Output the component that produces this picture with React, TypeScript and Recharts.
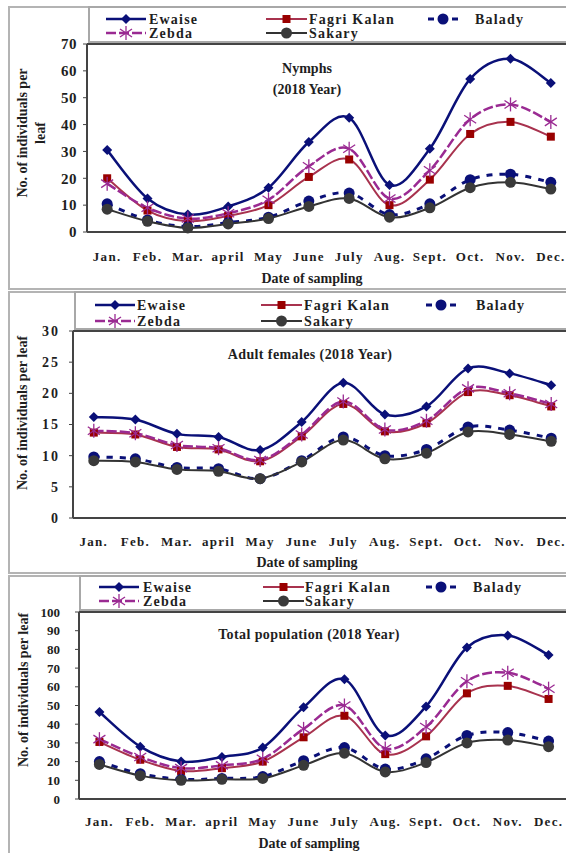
import React from "react";
import { LineChart, Line, XAxis, YAxis, ReferenceLine } from "recharts";

const months = ["Jan.", "Feb.", "Mar.", "april", "May", "June", "July", "Aug.", "Sept.", "Oct.", "Nov.", "Dec."];

// Nymphs (2018 Year)
const nymphEwaise = [30.5, 12.5, 6.5, 9.5, 16.5, 33.5, 42.5, 17.5, 31, 57, 64.5, 55.5];
const nymphFagri = [20, 8, 4, 6, 10, 20.5, 27, 10, 19.5, 36.5, 41, 35.5];
const nymphBalady = [10.5, 4.5, 2, 3.5, 5.5, 11.5, 14.5, 6.5, 10.5, 19.5, 21.5, 18.5];
const nymphZebda = [18, 9, 5, 7, 12, 24.5, 31, 12.5, 23, 42, 47.5, 41];
const nymphSakary = [8.5, 4, 1.5, 3, 5, 9.5, 12.5, 5.5, 9, 16.5, 18.5, 16];

// Adult females (2018 Year)
const adultEwaise = [16.2, 15.8, 13.5, 13, 10.9, 15.4, 21.7, 16.6, 17.9, 24, 23.2, 21.3];
const adultFagri = [13.7, 13.4, 11.4, 11, 9.1, 13.1, 18.3, 13.9, 15.2, 20.2, 19.7, 17.9];
const adultBalady = [9.8, 9.5, 8.1, 7.9, 6.3, 9.2, 13, 10, 11, 14.6, 14.1, 12.8];
const adultZebda = [14, 13.6, 11.7, 11.2, 9.3, 13.4, 18.7, 14.2, 15.6, 20.8, 20, 18.3];
const adultSakary = [9.2, 9, 7.8, 7.5, 6.3, 9, 12.5, 9.5, 10.4, 13.8, 13.4, 12.3];

// Total population (2018 Year)
const totalEwaise = [46.5, 28, 20, 22.5, 27.5, 49, 64, 34, 49.5, 81, 87.5, 77];
const totalFagri = [30.5, 21, 15, 16.5, 20, 33, 44.5, 24, 33.5, 56.5, 60.5, 53.5];
const totalBalady = [20, 13.5, 10.5, 11, 12, 20.5, 27.5, 16, 21.5, 34, 35.5, 31];
const totalZebda = [32, 22.5, 16.5, 18, 21.5, 37.5, 50, 27, 38.5, 63, 67.5, 59];
const totalSakary = [18.5, 12.5, 10, 10.5, 11, 18, 24.5, 14.5, 19.5, 30, 31.5, 28];

const nymphTicks = [0, 10, 20, 30, 40, 50, 60, 70];
const adultTicks = [0, 5, 10, 15, 20, 25, 30];
const totalTicks = [0, 10, 20, 30, 40, 50, 60, 70, 80, 90, 100];

const FONT = "'Liberation Serif', 'Times New Roman', serif";
const INK = "#1e1e1e";

type Kind = "diamond" | "square" | "star" | "circle";

const series = [
    { key: "ewaise", name: "Ewaise", color: "#0a1078", dotColor: "#0a1078", width: 2.5, dash: undefined, kind: "diamond" as Kind },
    { key: "fagri", name: "Fagri Kalan", color: "#a8324e", dotColor: "#990000", width: 2, dash: undefined, kind: "square" as Kind },
    { key: "balady", name: "Balady", color: "#0a1078", dotColor: "#0a1078", width: 3, dash: "6 7", kind: "circle" as Kind },
    { key: "zebda", name: "Zebda", color: "#9a2a92", dotColor: "#9a2a92", width: 2.5, dash: "10 3", kind: "star" as Kind },
    { key: "sakary", name: "Sakary", color: "#333333", dotColor: "#3a3a3a", width: 2, dash: undefined, kind: "circle" as Kind },
];

function buildRows(e: number[], f: number[], b: number[], z: number[], s: number[]) {
    return months.map((m, i) => ({ month: m, ewaise: e[i], fagri: f[i], balady: b[i], zebda: z[i], sakary: s[i] }));
}

// Excel style smoothed line (uniform Catmull-Rom as cubic Bezier)
const excelCurve = (context: any) => {
    let pts: number[][] = [];
    return {
        areaStart() {},
        areaEnd() {},
        lineStart() {
            pts = [];
        },
        lineEnd() {
            const n = pts.length;
            if (!n) return;
            context.moveTo(pts[0][0], pts[0][1]);
            for (let i = 0; i < n - 1; i++) {
                const p0 = pts[Math.max(i - 1, 0)];
                const p1 = pts[i];
                const p2 = pts[i + 1];
                const p3 = pts[Math.min(i + 2, n - 1)];
                context.bezierCurveTo(
                    p1[0] + (p2[0] - p0[0]) / 6,
                    p1[1] + (p2[1] - p0[1]) / 6,
                    p2[0] - (p3[0] - p1[0]) / 6,
                    p2[1] - (p3[1] - p1[1]) / 6,
                    p2[0],
                    p2[1]
                );
            }
        },
        point(x: number, y: number) {
            pts.push([+x, +y]);
        },
    };
};

function Marker({ kind, cx, cy, color }: { kind: Kind; cx: number; cy: number; color: string }) {
    if (cx == null || cy == null) return null;
    if (kind === "diamond")
        return <polygon points={`${cx},${cy - 5} ${cx + 5},${cy} ${cx},${cy + 5} ${cx - 5},${cy}`} fill={color} />;
    if (kind === "square") return <rect x={cx - 4} y={cy - 4} width={8} height={8} fill={color} />;
    if (kind === "star")
        return (
            <g stroke={color} strokeWidth={1.3}>
                <line x1={cx} y1={cy - 7} x2={cx} y2={cy + 7} />
                <line x1={cx - 6} y1={cy - 4} x2={cx + 6} y2={cy + 4} />
                <line x1={cx - 6} y1={cy + 4} x2={cx + 6} y2={cy - 4} />
            </g>
        );
    return <circle cx={cx} cy={cy} r={5.5} fill={color} />;
}

type PanelProps = {
    rows: any[];
    ticks: number[];
    top: number;
    plotTop: number;
    plotBottom: number;
    plotLeft: number;
    plotRight: number;
    xTickMargin: number;
    yTickMargin: number;
    yFont: number;
    ySpacing: number;
};

function Panel(p: PanelProps) {
    const W = 600;
    const band = (p.plotRight - p.plotLeft) / 12;
    const H = p.plotBottom - p.top + 40;
    const yMax = p.ticks[p.ticks.length - 1];
    return (
        <div style={{ position: "absolute", left: 0, top: p.top }}>
            <LineChart
                width={W}
                height={H}
                data={p.rows}
                margin={{ top: p.plotTop - p.top, right: W - p.plotRight, bottom: 0, left: 0 }}
            >
                <XAxis
                    dataKey="month"
                    height={40}
                    padding={{ left: band / 2, right: band / 2 }}
                    tickLine={false}
                    tickSize={6}
                    tickMargin={p.xTickMargin}
                    axisLine={{ stroke: "#444", strokeWidth: 2 }}
                    tick={{ fontSize: 13, fontWeight: 700, fill: INK, fontFamily: FONT, letterSpacing: 1.3 }}
                    interval={0}
                />
                <YAxis
                    width={p.plotLeft}
                    domain={[0, yMax]}
                    ticks={p.ticks}
                    tickSize={4}
                    tickMargin={p.yTickMargin}
                    tickLine={{ stroke: "#444" }}
                    axisLine={{ stroke: "#444", strokeWidth: 2 }}
                    tick={{ fontSize: p.yFont, fontWeight: 700, fill: INK, fontFamily: FONT, letterSpacing: p.ySpacing }}
                    interval={0}
                />
                <ReferenceLine y={yMax} stroke="#444" strokeWidth={2} />
                {series.map((s) => (
                    <Line
                        key={s.key}
                        dataKey={s.key}
                        name={s.name}
                        type={excelCurve as any}
                        stroke={s.color}
                        strokeWidth={s.width}
                        strokeDasharray={s.dash}
                        isAnimationActive={false}
                        activeDot={false}
                        dot={(d: any) => <Marker key={`${s.key}-${d.index}`} kind={s.kind} cx={d.cx} cy={d.cy} color={s.dotColor} />}
                    />
                ))}
            </LineChart>
        </div>
    );
}

type LegendPos = { y1: number; y2: number; c1: number; c2: number; c3: number; t1: number; t2: number; t3: number };

function LegendSvg({ l }: { l: LegendPos }) {
    const cols = [
        { s: series[0], x: l.c1, t: l.t1, y: l.y1, w: 40 },
        { s: series[1], x: l.c2, t: l.t2, y: l.y1, w: 41 },
        { s: series[2], x: l.c3, t: l.t3, y: l.y1, w: 30 },
        { s: series[3], x: l.c1, t: l.t1, y: l.y2, w: 40 },
        { s: series[4], x: l.c2, t: l.t2, y: l.y2, w: 41 },
    ];
    return (
        <g>
            {cols.map(({ s, x, t, y, w }) => (
                <g key={s.key}>
                    <line
                        x1={x}
                        x2={x + w}
                        y1={y}
                        y2={y}
                        stroke={s.color}
                        strokeWidth={s.width}
                        strokeDasharray={s.key === "balady" ? "6 18" : s.key === "zebda" ? "10 3" : undefined}
                    />
                    <Marker kind={s.kind} cx={x + w / 2} cy={y} color={s.dotColor} />
                    <text
                        x={t}
                        y={y}
                        dominantBaseline="central"
                        fontSize={14}
                        fontWeight={700}
                        fill={INK}
                        fontFamily={FONT}
                        letterSpacing={1.2}
                    >
                        {s.name}
                    </text>
                </g>
            ))}
        </g>
    );
}

const boxStyle = (left: number, top: number, height: number, color: string): React.CSSProperties => ({
    position: "absolute",
    left,
    top,
    width: 600,
    height,
    border: `2px solid ${color}`,
    boxSizing: "border-box",
});

export default function App() {
    const txt = { fontSize: 14, fontWeight: 700, fill: INK, fontFamily: FONT, textAnchor: "middle" as const, dominantBaseline: "central" as const };
    return (
        <div
            style={{
                position: "absolute",
                left: 0,
                top: 0,
                width: 566,
                height: 853,
                overflow: "hidden",
                background: "#fff",
                fontFamily: FONT,
            }}
        >
            {/* panel frames */}
            <div style={boxStyle(8, 6, 284, "#b4b4b4")} />
            <div style={boxStyle(8, 291, 283, "#b4b4b4")} />
            <div style={boxStyle(8, 575, 300, "#b4b4b4")} />
            {/* legend boxes */}
            <div style={boxStyle(88, 6, 37, "#a8a8a8")} />
            <div style={boxStyle(74, 291, 39, "#a8a8a8")} />
            <div style={boxStyle(79, 575, 36, "#a8a8a8")} />

            <Panel
                rows={buildRows(nymphEwaise, nymphFagri, nymphBalady, nymphZebda, nymphSakary)}
                ticks={nymphTicks}
                top={0}
                plotTop={44}
                plotBottom={232}
                plotLeft={87}
                plotRight={571}
                xTickMargin={14}
                yTickMargin={6}
                yFont={15}
                ySpacing={0.5}
            />
            <Panel
                rows={buildRows(adultEwaise, adultFagri, adultBalady, adultZebda, adultSakary)}
                ticks={adultTicks}
                top={290}
                plotTop={331}
                plotBottom={518}
                plotLeft={73}
                plotRight={572}
                xTickMargin={13}
                yTickMargin={9}
                yFont={14}
                ySpacing={2}
            />
            <Panel
                rows={buildRows(totalEwaise, totalFagri, totalBalady, totalZebda, totalSakary)}
                ticks={totalTicks}
                top={575}
                plotTop={612}
                plotBottom={799}
                plotLeft={79}
                plotRight={569}
                xTickMargin={12}
                yTickMargin={15}
                yFont={13}
                ySpacing={0}
            />

            <svg width={566} height={853} style={{ position: "absolute", left: 0, top: 0, pointerEvents: "none" }}>
                <LegendSvg l={{ y1: 19, y2: 33, c1: 106, c2: 266, c3: 428, t1: 149, t2: 309, t3: 475 }} />
                <LegendSvg l={{ y1: 305, y2: 321, c1: 95, c2: 261, c3: 426, t1: 137, t2: 304, t3: 476 }} />
                <LegendSvg l={{ y1: 587, y2: 601, c1: 99, c2: 263, c3: 426, t1: 143, t2: 305, t3: 473 }} />

                <text x={307} y={68} {...txt}>Nymphs</text>
                <text x={307} y={89} {...txt}>(2018 Year)</text>
                <text x={310} y={354} {...txt} letterSpacing={0.4}>Adult females (2018 Year)</text>
                <text x={309} y={634} {...txt} letterSpacing={0.4}>Total population (2018 Year)</text>

                <text x={312} y={278} {...txt}>Date of sampling</text>
                <text x={307} y={562} {...txt}>Date of sampling</text>
                <text x={309} y={843} {...txt}>Date of sampling</text>

                <text x={22} y={133} {...txt} transform="rotate(-90 22 133)">No. of individuals per</text>
                <text x={40} y={133} {...txt} transform="rotate(-90 40 133)">leaf</text>
                <text x={22} y={413} {...txt} transform="rotate(-90 22 413)">No. of individuals per leaf</text>
                <text x={23} y={690} {...txt} transform="rotate(-90 23 690)">No. of individuals per leaf</text>
            </svg>
        </div>
    );
}
